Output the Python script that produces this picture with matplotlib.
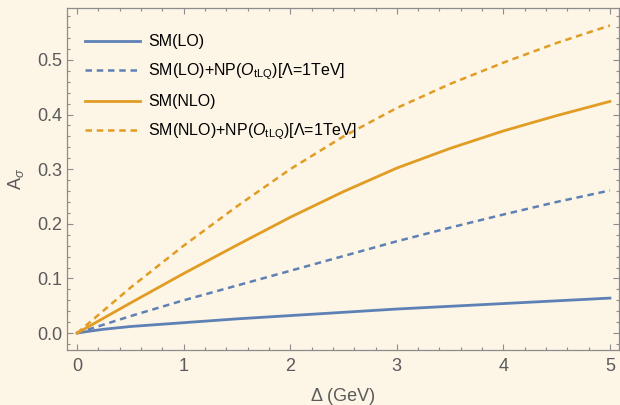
import matplotlib
matplotlib.use("Agg")
import matplotlib.pyplot as plt
from matplotlib.ticker import MultipleLocator

plt.rcParams['font.family'] = ['Liberation Sans', 'DejaVu Sans']
plt.rcParams['mathtext.fontset'] = 'custom'
plt.rcParams['mathtext.rm'] = 'Liberation Sans'
plt.rcParams['mathtext.it'] = 'Liberation Sans:italic'

# --- Data ---
delta = [0, 0.5, 1, 1.5, 2, 2.5, 3, 3.5, 4, 4.5, 5]
delta_lo = [0, 0.1, 0.25, 0.5, 1, 1.5, 2, 2.5, 3, 3.5, 4, 4.5, 5]
sm_lo = [0, 0.003, 0.007, 0.012, 0.019, 0.026, 0.032, 0.038, 0.044, 0.049, 0.054, 0.059, 0.064]
sm_lo_np = [0, 0.031, 0.060, 0.087, 0.114, 0.141, 0.168, 0.193, 0.217, 0.240, 0.261]
sm_nlo = [0, 0.055, 0.109, 0.161, 0.212, 0.259, 0.302, 0.338, 0.370, 0.398, 0.424]
sm_nlo_np = [0, 0.083, 0.160, 0.232, 0.300, 0.360, 0.412, 0.456, 0.495, 0.531, 0.563]

labels = [
    'SM(LO)',
    r'SM(LO)+NP($O_{\mathrm{tLQ}}$)[Λ=1TeV]',
    'SM(NLO)',
    r'SM(NLO)+NP($O_{\mathrm{tLQ}}$)[Λ=1TeV]',
]

BLUE = '#5E81B5'
ORANGE = '#E19C24'
BG = '#FDF5E6'
FRAME = '#8C8C8C'
TXT = '#5A5A5A'

fig = plt.figure(figsize=(6.2, 4.05), dpi=100)
fig.patch.set_facecolor(BG)
ax = fig.add_axes([67 / 620, 1 - 350 / 405, 552 / 620, 342 / 405])
ax.set_facecolor(BG)

dash = (2.6, 1.9)
ax.plot(delta_lo, sm_lo, color=BLUE, lw=2.0, label=labels[0])
ax.plot(delta, sm_lo_np, color=BLUE, lw=1.8, ls=(0, dash), label=labels[1])
ax.plot(delta, sm_nlo, color=ORANGE, lw=2.0, label=labels[2])
ax.plot(delta, sm_nlo_np, color=ORANGE, lw=1.8, ls=(0, dash), label=labels[3])

ax.set_xlim(-0.095, 5.085)
ax.set_ylim(-0.031, 0.595)

ax.xaxis.set_major_locator(MultipleLocator(1))
ax.xaxis.set_minor_locator(MultipleLocator(0.2))
ax.yaxis.set_major_locator(MultipleLocator(0.1))
ax.yaxis.set_minor_locator(MultipleLocator(0.02))
ax.yaxis.set_major_formatter(plt.FuncFormatter(lambda v, p: f'{v:.1f}'))

ax.tick_params(which='both', direction='in', top=True, right=True, color=FRAME, width=0.8)
ax.tick_params(which='major', length=4.5, labelsize=13, labelcolor=TXT)
ax.tick_params(which='minor', length=2.5)
ax.tick_params(axis='x', which='major', pad=6)
ax.tick_params(axis='y', which='major', pad=3.5)
for s in ax.spines.values():
    s.set_color(FRAME)
    s.set_linewidth(0.9)

ax.set_xlabel('Δ (GeV)', fontsize=13, color=TXT, labelpad=9)
ax.set_ylabel(r'A$_{\sigma}$', fontsize=13, color=TXT, labelpad=8)

leg = ax.legend(loc='upper left', frameon=False, fontsize=11.5, handlelength=3.4,
                handletextpad=0.55, labelspacing=0.76, borderaxespad=0.4,
                bbox_to_anchor=(0.01, 0.96))

fig.savefig('out.png', dpi=100, facecolor=BG)
